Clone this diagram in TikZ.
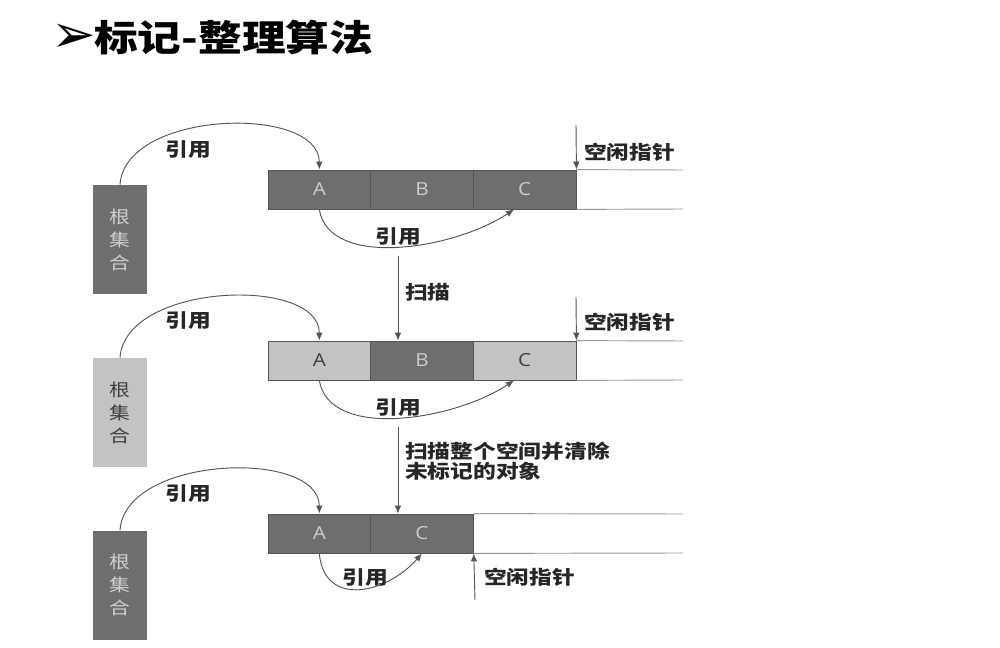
\documentclass[tikz,border=0pt]{standalone}
\usepackage{fontspec}
\usetikzlibrary{arrows.meta}
\newfontfamily\cjk[FakeStretch=1.2]{Noto Sans CJK SC}
\newfontfamily\dvs{DejaVu Sans}
\newfontfamily\lat[FakeStretch=1.15]{Open Sans}
\definecolor{darkc}{HTML}{6E6E6E}
\definecolor{lightc}{HTML}{C3C3C3}
\definecolor{edge}{HTML}{555555}
\definecolor{lineg}{HTML}{9A9A9A}
\tikzset{
  cell/.style={draw=edge, line width=0.6pt, minimum width=77pt, minimum height=29.25pt, inner sep=0pt, font=\lat\fontsize{13.5}{15}\selectfont},
  darkcell/.style={cell, fill=darkc, text=lightc!85!white},
  lightcell/.style={cell, fill=lightc, text=black!75},
  rootbox/.style={minimum width=41pt, minimum height=81.75pt, inner sep=0pt, align=center, font=\cjk\fontsize{13}{17.25}\selectfont},
  darkroot/.style={rootbox, fill=darkc, text=lightc!80!white},
  lightroot/.style={rootbox, fill=lightc, text=black!75},
  conn/.style={draw=edge, line width=0.7pt, -{Latex[length=6pt,width=5pt]}},
  lbl/.style={font=\cjk\bfseries\fontsize{14.2}{13.5}\selectfont, text=black!85, inner sep=0pt},
  rail/.style={draw=lineg, line width=0.7pt}
}
\begin{document}
\begin{tikzpicture}[x=0.75pt,y=-0.75pt]
\useasboundingbox (0,0) rectangle (1000,648);
% title
\node[inner sep=0pt, font=\dvs\fontsize{40}{44}\selectfont] (tarrow) at (74,38) {➢};
\node[anchor=west, inner sep=0pt, font=\cjk\bfseries\fontsize{27.3}{32}\selectfont] (title) at (94,37) {标记-整理算法};

% ---------- panel 1 ----------
\node[darkroot] (r1) at (120,239.5) {根\\集\\合};
\node[darkcell] (a1) at (319.3,189.5) {A};
\node[darkcell] (b1) at (422,189.5) {B};
\node[darkcell] (c1) at (524.7,189.5) {C};
\coordinate (e1t) at (683,170);
\coordinate (e1b) at (683,209);
\draw[rail] (c1.north east) -- (e1t);
\draw[rail] (c1.south east) -- (e1b);
\draw[conn] (r1.north) .. controls +(5,-75) and +(0,-65) .. (a1.north);
\node[lbl] (l1a) at (188,150) {引用};
\draw[conn] (a1.south) .. controls +(10,60) and +(-60,40) .. ([xshift=-8pt]c1.south);
\node[lbl] (l1b) at (398,237) {引用};
\coordinate (f1) at (576,125);
\draw[conn] (f1) -- (c1.north east);
\node[lbl, anchor=west] (fl1) at (584,152) {空闲指针};

% ---------- panel 2 ----------
\node[lightroot] (r2) at (120,412.5) {根\\集\\合};
\node[lightcell] (a2) at (319.3,360.5) {A};
\node[darkcell] (b2) at (422,360.5) {B};
\node[lightcell] (c2) at (524.7,360.5) {C};
\coordinate (e2t) at (683,341);
\coordinate (e2b) at (683,380);
\draw[rail] (c2.north east) -- (e2t);
\draw[rail] (c2.south east) -- (e2b);
\draw[conn] (r2.north) .. controls +(5,-75) and +(0,-65) .. (a2.north);
\node[lbl] (l2a) at (188,321) {引用};
\draw[conn] (a2.south) .. controls +(10,60) and +(-60,40) .. ([xshift=-8pt]c2.south);
\node[lbl] (l2b) at (398,408) {引用};
\coordinate (f2) at (576,297);
\draw[conn] (f2) -- (c2.north east);
\node[lbl, anchor=west] (fl2) at (584,322) {空闲指针};

% scan 1
\coordinate (s1) at (398,256);
\draw[conn] (s1) -- (s1 |- b2.north);
\node[lbl, anchor=west] (sc1) at (405,292) {扫描};

% ---------- panel 3 ----------
\node[darkroot] (r3) at (120,585) {根\\集\\合};
\node[darkcell] (a3) at (319.3,533.5) {A};
\node[darkcell] (c3) at (422,533.5) {C};
\coordinate (e3t) at (683,514);
\coordinate (e3b) at (683,553);
\draw[rail] (c3.north east) -- (e3t);
\draw[rail] (c3.south east) -- (e3b);
\draw[conn] (r3.north) .. controls +(5,-75) and +(0,-65) .. (a3.north);
\node[lbl] (l3a) at (188,494) {引用};
\draw[conn] (a3.south) .. controls +(5,55) and +(-35,40) .. (c3.south);
\node[lbl] (l3b) at (365,578) {引用};
\coordinate (f3) at (475,600);
\draw[conn] (f3) -- (c3.south east);
\node[lbl, anchor=west] (fl3) at (484,577) {空闲指针};

% scan 2
\coordinate (s2) at (398,427);
\draw[conn] (s2) -- (s2 |- c3.north);
\node[lbl, anchor=west, align=left] (sc2) at (405,461) {扫描整个空间并清除\\未标记的对象};
\end{tikzpicture}
\end{document}
